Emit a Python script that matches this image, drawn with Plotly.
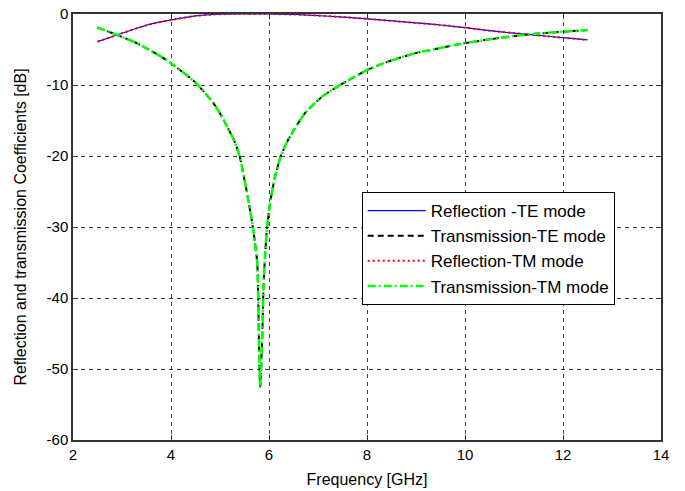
import plotly.graph_objects as go

# Reflection (TE)
refl_te_f = [2.5, 2.9, 3.3, 3.64, 4.0, 4.46, 4.86, 5.3, 6.0, 6.7, 7.6, 8.0, 8.64, 9.25, 9.5, 10.0, 10.5, 11.16, 11.5, 12.0, 12.5]
refl_te_db = [-3.9, -2.95, -2.0, -1.32, -0.85, -0.3, -0.06, 0.0, 0.0, -0.12, -0.47, -0.68, -1.05, -1.4, -1.55, -1.93, -2.35, -2.8, -3.0, -3.34, -3.65]

# Reflection (TM) (overlaps TE)
refl_tm_f = [2.5, 2.9, 3.3, 3.64, 4.0, 4.46, 4.86, 5.3, 6.0, 6.7, 7.6, 8.0, 8.64, 9.25, 9.5, 10.0, 10.5, 11.16, 11.5, 12.0, 12.5]
refl_tm_db = [-3.9, -2.95, -2.0, -1.32, -0.85, -0.3, -0.06, 0.0, 0.0, -0.12, -0.47, -0.68, -1.05, -1.4, -1.55, -1.93, -2.35, -2.8, -3.0, -3.34, -3.65]

# Transmission (TE)
trans_te_f = [2.5, 2.9, 3.3, 3.5, 3.8, 4.0, 4.3, 4.5, 4.6, 4.85, 5.0, 5.15, 5.3, 5.4, 5.53, 5.67, 5.76, 5.78, 5.80, 5.82,
              5.86, 5.89, 5.92, 5.96, 6.03, 6.12, 6.24, 6.37, 6.52, 6.73, 7.07, 7.5, 8.0, 8.43, 8.97, 9.45, 9.8, 10.0,
              10.5, 11.16, 11.53, 12.0, 12.5]
trans_te_db = [-1.9, -2.95, -4.1, -4.85, -6.0, -6.95, -8.5, -9.65, -10.4, -12.4, -14.0, -15.9, -18.0, -20.0, -24.4, -30.0, -35.0, -40.0, -48.0, -52.5,
               -46.0, -38.0, -34.0, -30.0, -26.3, -23.0, -20.0, -18.0, -16.2, -14.0, -11.7, -9.8, -7.9, -6.7, -5.55, -4.85, -4.35, -4.1,
               -3.57, -2.97, -2.73, -2.5, -2.26]

# Transmission (TM) (overlaps TE)
trans_tm_f = list(trans_te_f)
trans_tm_db = list(trans_te_db)

x_ticks = [2, 4, 6, 8, 10, 12, 14]
y_ticks = [-60, -50, -40, -30, -20, -10, 0]

FONT = "Liberation Sans, Arial, sans-serif"

fig = go.Figure()
fig.add_trace(go.Scatter(x=refl_te_f, y=refl_te_db, mode="lines", name="Reflection -TE mode",
                         line=dict(color="#0000ff", width=1.2, shape="spline", smoothing=0.6)))
fig.add_trace(go.Scatter(x=trans_te_f, y=trans_te_db, mode="lines", name="Transmission-TE mode",
                         line=dict(color="#000000", width=2, dash="6px,4px", shape="spline", smoothing=0.5)))
fig.add_trace(go.Scatter(x=refl_tm_f, y=refl_tm_db, mode="lines", name="Reflection-TM mode",
                         line=dict(color="#ff0000", width=2, dash="2px,3px", shape="spline", smoothing=0.6)))
fig.add_trace(go.Scatter(x=trans_tm_f, y=trans_tm_db, mode="lines", name="Transmission-TM mode",
                         line=dict(color="#00ff00", width=2.5, dash="8px,3px,2px,3px", shape="spline", smoothing=0.5)))

axis_common = dict(
    showline=True, linecolor="#333333", linewidth=1.5, mirror="ticks",
    ticks="inside", ticklen=5, tickcolor="#333333",
    showgrid=True, gridcolor="rgba(0,0,0,0.75)", gridwidth=1, griddash="4px,4px",
    zeroline=False, tickfont=dict(family=FONT, size=15, color="#000000"),
    automargin=False,
)

fig.update_xaxes(range=[2, 14], tickvals=x_ticks, ticktext=[str(v) for v in x_ticks],
                 title=dict(text="Frequency [GHz]", font=dict(family=FONT, size=16, color="#000"), standoff=12),
                 **axis_common)
fig.update_yaxes(range=[-60, 0], tickvals=y_ticks, ticktext=[str(v) for v in y_ticks],
                 title=dict(text="Reflection and transmission Coefficients [dB]",
                            font=dict(family=FONT, size=16, color="#000"), standoff=16),
                 **axis_common)

fig.update_layout(
    width=685, height=491,
    margin=dict(l=73, r=24, t=14, b=51),
    paper_bgcolor="white", plot_bgcolor="white",
    font=dict(family=FONT, color="#000"),
    legend=dict(x=0.491, y=0.582, xanchor="left", yanchor="top",
                bgcolor="white", bordercolor="#000000", borderwidth=1,
                font=dict(family=FONT, size=17, color="#000"),
                itemwidth=58, tracegroupgap=0),
    showlegend=True,
)

fig.write_html("out.html")
